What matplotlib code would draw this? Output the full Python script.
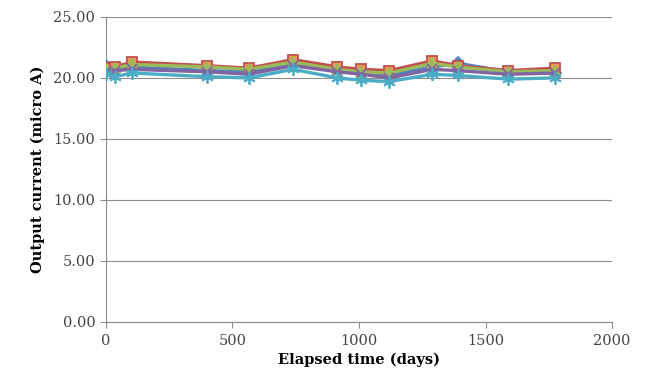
import matplotlib
matplotlib.use("Agg")
import matplotlib.pyplot as plt

days = [0, 35, 105, 400, 565, 740, 915, 1010, 1120, 1290, 1390, 1590, 1775]
s_blue = [21.0, 20.7, 20.9, 20.6, 20.5, 21.2, 20.8, 20.6, 20.2, 20.9, 21.2, 20.5, 20.4]
s_red = [20.8, 20.9, 21.3, 21.0, 20.8, 21.5, 20.9, 20.7, 20.6, 21.4, 21.0, 20.6, 20.8]
s_green = [20.7, 20.8, 21.1, 20.9, 20.7, 21.3, 20.7, 20.5, 20.4, 21.2, 20.9, 20.5, 20.6]
s_purple = [20.5, 20.6, 20.7, 20.5, 20.3, 21.0, 20.5, 20.3, 20.0, 20.7, 20.6, 20.3, 20.4]
s_cyan = [20.3, 20.1, 20.4, 20.1, 20.0, 20.7, 20.0, 19.8, 19.7, 20.3, 20.2, 19.9, 20.0]

x_ticks = [0, 500, 1000, 1500, 2000]
y_ticks = [0, 5, 10, 15, 20, 25]

plt.rcParams['font.family'] = ['DejaVu Serif']

fig = plt.figure(figsize=(6.45, 3.76), dpi=100)
ax = fig.add_axes([0.164, 0.144, 0.785, 0.811])

series = [
    (s_blue, '#4F81BD', 'D', 6, '#4F81BD'),
    (s_red, '#C0504D', 's', 7, '#E9995A'),
    (s_green, '#9BBB59', '^', 7, '#9BBB59'),
    (s_purple, '#8064A2', 'x', 7, '#8064A2'),
    (s_cyan, '#4BACC6', (6, 2, 0), 9, '#4BACC6'),
]
for vals, col, mk, ms, fc in series:
    ax.plot(days, vals, color=col, lw=2.4, marker=mk, markersize=ms,
            markerfacecolor=fc, markeredgecolor=col, markeredgewidth=1.3,
            zorder=3)

ax.set_xlim(0, 2000)
ax.set_ylim(0, 25)
ax.set_xticks(x_ticks)
ax.set_yticks(y_ticks)
ax.set_yticklabels([f"{v:.2f}" for v in y_ticks])
ax.grid(axis='y', color='#8c8c8c', lw=0.8)
ax.set_axisbelow(True)
for sp in ['top', 'right']:
    ax.spines[sp].set_visible(False)
for sp in ['left', 'bottom']:
    ax.spines[sp].set_color('#8c8c8c')
    ax.spines[sp].set_linewidth(0.8)
ax.tick_params(axis='both', colors='#8c8c8c', length=4, labelsize=10.5,
               labelcolor='#444444')
ax.tick_params(axis='x', pad=5)
ax.set_xlabel('Elapsed time (days)', fontsize=10.5, fontweight='bold', labelpad=3)
ax.set_ylabel('Output current (micro A)', fontsize=10.5, fontweight='bold', labelpad=6)

fig.savefig('out.png', dpi=100, facecolor='white')
